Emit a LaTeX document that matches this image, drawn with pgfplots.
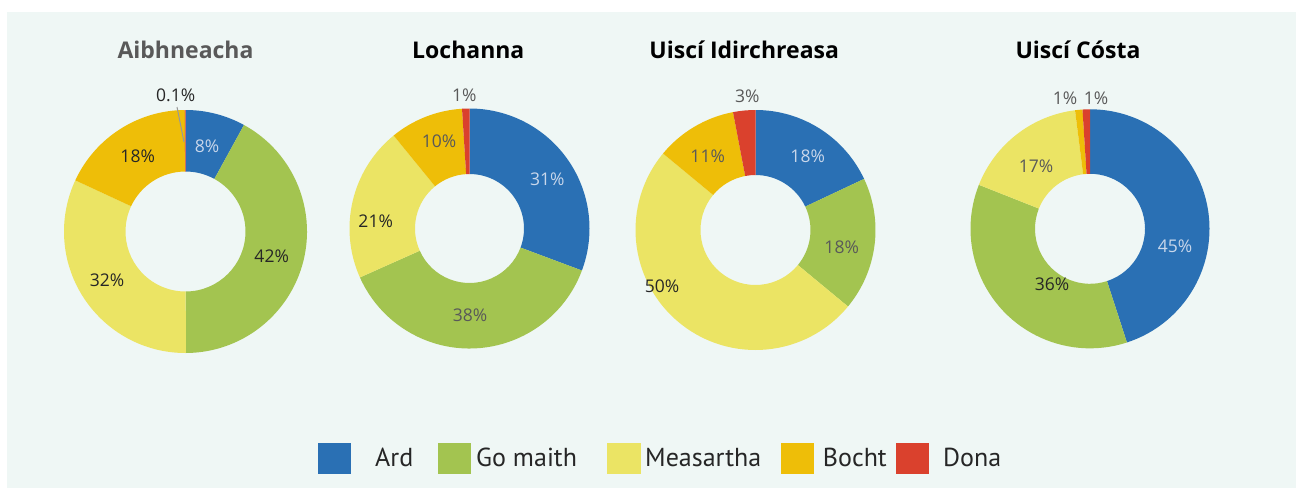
\documentclass[border=0pt]{standalone}
\usepackage{pgfplots}
\pgfplotsset{compat=1.18}
\usepackage{fontspec}
\setmainfont{Open Sans}
\newfontfamily\legfont{PT Sans}
\definecolor{cArd}{HTML}{2A70B4}
\definecolor{cGo}{HTML}{A3C450}
\definecolor{cMe}{HTML}{EBE464}
\definecolor{cBo}{HTML}{EEBE08}
\definecolor{cDo}{HTML}{DA412D}
\definecolor{bg}{HTML}{EFF7F5}
\definecolor{labdark}{HTML}{262626}
\definecolor{labgray}{HTML}{595959}
\definecolor{lablight}{HTML}{C9D7EB}
\definecolor{titgray}{HTML}{595959}

% #1 cx, #2 cy, #3 outer R, #4 inner r, #5 total, #6 list value/colour
\newcommand\donut[6]{%
  \gdef\cum{0}%
  \foreach \v/\col in {#6}{%
    \pgfmathsetmacro\aone{90-\cum*(360/#5)}%
    \pgfmathsetmacro\newcum{\cum+\v}%
    \pgfmathsetmacro\atwo{90-\newcum*(360/#5)}%
    \pgfmathsetmacro\dr{#4-#3}%
    \xdef\cum{\newcum}%
    \fill[\col] (axis cs:#1,#2) ++(\aone:#3bp) arc[start angle=\aone, end angle=\atwo, radius=#3bp]
      -- ++(\atwo:\dr bp) arc[start angle=\atwo, end angle=\aone, radius=#4bp] -- cycle;
  }%
}
\newcommand\lab[4]{\node[inner sep=0pt, text=#3, font=\fontsize{17.5bp}{20bp}\selectfont] at (axis cs:#1,#2) {#4};}
\newcommand\tit[3]{\node[inner sep=0pt, anchor=base, text=#2, font=\fontsize{23bp}{27bp}\selectfont\bfseries] at (axis cs:#1,58.5) {#3};}
\newcommand\leg[2]{\node[inner sep=0pt, anchor=base west, text=labdark, font=\legfont\fontsize{26bp}{30bp}\selectfont] at (axis cs:#1,466) {#2};}

\begin{document}
\begin{tikzpicture}
\begin{axis}[
  scale only axis, width=1296bp, height=488bp,
  xmin=0, xmax=1296, ymin=0, ymax=488, y dir=reverse,
  hide axis, clip=false]
% background
\addplot[fill=white, draw=none] coordinates {(0,0) (1296,0) (1296,488) (0,488)} -- cycle;
\addplot[fill=bg, draw=none] coordinates {(7,12) (1296,12) (1296,488) (7,488)} -- cycle;
% donuts: Ard, Go maith, Measartha, Bocht, Dona
\pgfplotsextra{%
  \donut{185.5}{231.5}{121.5}{60}{100.1}{8/cArd, 42/cGo, 32/cMe, 18/cBo, 0.1/cDo}%
  \donut{469.5}{228.5}{120}{54.5}{101}{31/cArd, 38/cGo, 21/cMe, 10/cBo, 1/cDo}%
  \donut{755.5}{230}{120}{55}{100}{18/cArd, 18/cGo, 50/cMe, 11/cBo, 3/cDo}%
  \donut{1090}{228.8}{119.5}{55}{100}{45/cArd, 36/cGo, 17/cMe, 1/cBo, 1/cDo}%
}
% leader line for 0.1%
\addplot[draw=gray!80, line width=1bp] coordinates {(177,107) (184,142)};
% legend squares
\addplot[fill=cArd, draw=none] coordinates {(318,443) (351,443) (351,474) (318,474)} -- cycle;
\addplot[fill=cGo, draw=none] coordinates {(438,443) (471,443) (471,474) (438,474)} -- cycle;
\addplot[fill=cMe, draw=none] coordinates {(607,443) (641,443) (641,474) (607,474)} -- cycle;
\addplot[fill=cBo, draw=none] coordinates {(781,443) (814,443) (814,474) (781,474)} -- cycle;
\addplot[fill=cDo, draw=none] coordinates {(896,443) (929,443) (929,474) (896,474)} -- cycle;
% titles
\tit{185.5}{titgray}{Aibhneacha}
\tit{468.3}{black}{Lochanna}
\tit{744.2}{black}{Uiscí Idirchreasa}
\tit{1078}{black}{Uiscí Cósta}
% labels donut 1
\lab{207}{146}{lablight}{8\%}
\lab{271.7}{256.7}{labdark}{42\%}
\lab{107}{280}{labdark}{32\%}
\lab{137.7}{156}{labdark}{18\%}
\lab{175.7}{95}{labdark}{0.1\%}
% labels donut 2
\lab{547.3}{179}{lablight}{31\%}
\lab{470}{315.7}{labgray}{38\%}
\lab{375.7}{221.7}{labdark}{21\%}
\lab{439}{141.7}{labgray}{10\%}
\lab{464.3}{95.7}{labgray}{1\%}
% labels donut 3
\lab{807.7}{156.7}{lablight}{18\%}
\lab{841.7}{247.7}{labgray}{18\%}
\lab{662}{286}{labdark}{50\%}
\lab{707.7}{156.7}{labgray}{11\%}
\lab{747.3}{96}{labgray}{3\%}
% labels donut 4
\lab{1175}{246.7}{lablight}{45\%}
\lab{1052}{284}{labdark}{36\%}
\lab{1036}{166.7}{labgray}{17\%}
\lab{1065}{98.3}{labgray}{1\%}
\lab{1096}{98.3}{labgray}{1\%}
% legend text
\leg{375}{Ard}
\leg{476}{Go maith}
\leg{645}{Measartha}
\leg{822.7}{Bocht}
\leg{943}{Dona}
\end{axis}
\end{tikzpicture}
\end{document}
